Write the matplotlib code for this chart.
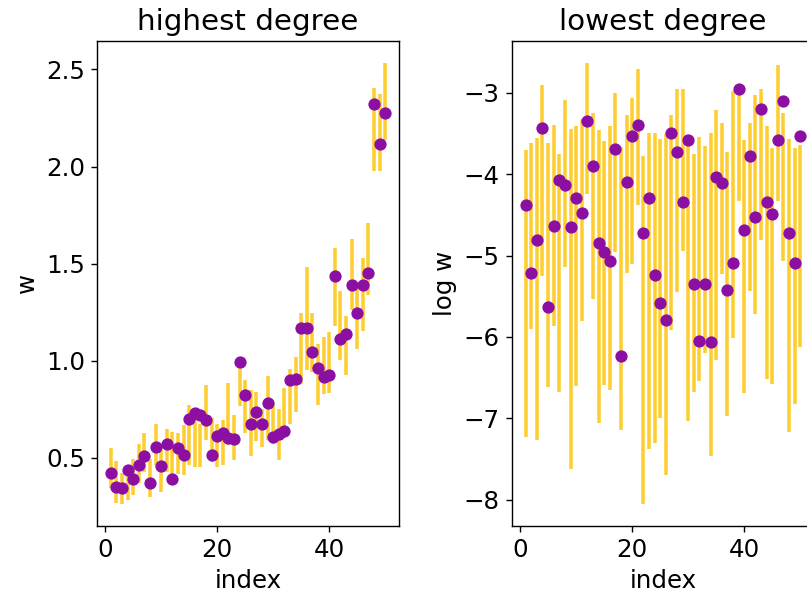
import numpy as np
import matplotlib
matplotlib.use('Agg')
import matplotlib.pyplot as plt

plt.rcParams['font.size'] = 14

index = np.arange(1, 51)

# highest degree: estimate with lower / upper interval bounds
w_high = [0.42, 0.351, 0.342, 0.435, 0.388, 0.462, 0.51, 0.372, 0.553, 0.456,
          0.572, 0.388, 0.548, 0.514, 0.70, 0.73, 0.72, 0.695, 0.514, 0.61,
          0.63, 0.604, 0.596, 0.993, 0.822, 0.673, 0.735, 0.676, 0.783, 0.608,
          0.621, 0.637, 0.899, 0.906, 1.169, 1.169, 1.044, 0.963, 0.915, 0.926,
          1.438, 1.113, 1.135, 1.39, 1.245, 1.39, 1.453, 2.324, 2.117, 2.276]
lo_high = [0.343, 0.266, 0.262, 0.283, 0.31, 0.368, 0.425, 0.30, 0.465, 0.324,
           0.425, 0.37, 0.415, 0.41, 0.463, 0.454, 0.454, 0.591, 0.48, 0.454,
           0.463, 0.565, 0.488, 0.766, 0.625, 0.51, 0.585, 0.555, 0.591, 0.57,
           0.488, 0.63, 0.672, 0.736, 0.88, 0.95, 0.942, 0.77, 0.83, 0.832,
           1.181, 1.002, 0.925, 1.262, 1.061, 1.152, 1.34, 1.977, 1.977, 2.139]
hi_high = [0.548, 0.485, 0.42, 0.46, 0.492, 0.572, 0.628, 0.492, 0.672, 0.54,
           0.65, 0.634, 0.628, 0.668, 0.77, 0.753, 0.676, 0.873, 0.705, 0.676,
           0.693, 0.887, 0.72, 1.0, 0.899, 0.85, 0.84, 0.75, 0.919, 0.778,
           0.753, 0.86, 0.955, 1.017, 1.248, 1.483, 1.248, 1.085, 1.121, 1.147,
           1.58, 1.357, 1.231, 1.626, 1.387, 1.529, 1.708, 2.405, 2.374, 2.533]

# lowest degree: log estimate with lower / upper interval bounds
w_low = [-4.38, -5.213, -4.805, -3.428, -5.626, -4.638, -4.07, -4.131, -4.654, -4.286,
         -4.47, -3.347, -3.894, -4.846, -4.96, -5.062, -3.694, -6.231, -4.094, -3.53,
         -3.396, -4.719, -4.286, -5.234, -5.577, -5.79, -3.494, -3.727, -4.34, -3.58,
         -5.344, -6.05, -5.344, -6.06, -4.037, -4.103, -5.426, -5.095, -2.95, -4.687,
         -3.776, -4.519, -3.196, -4.34, -4.486, -3.58, -3.102, -4.719, -5.095, -3.53]
lo_low = [-7.236, -5.90, -7.268, -5.246, -6.615, -5.859, -6.676, -5.136, -7.628, -6.607,
          -5.798, -4.245, -5.532, -7.056, -6.594, -6.656, -4.96, -7.138, -5.218, -5.103,
          -4.376, -8.053, -7.383, -7.301, -7.0, -7.697, -5.912, -5.45, -4.948, -7.03,
          -6.676, -6.541, -6.198, -7.464, -6.28, -5.226, -6.974, -6.01, -4.327, -6.688,
          -5.43, -5.716, -4.809, -6.513, -6.574, -4.327, -5.07, -7.166, -6.819, -6.125]
hi_low = [-3.706, -3.612, -3.559, -2.897, -3.612, -3.388, -3.755, -3.081, -3.437, -3.408,
          -3.314, -2.632, -3.245, -3.461, -3.592, -3.408, -3.0, -3.665, -3.273, -3.061,
          -2.701, -3.776, -3.49, -3.49, -3.571, -3.502, -3.273, -2.946, -2.946, -3.55,
          -3.755, -3.543, -3.653, -3.49, -3.204, -3.367, -3.723, -2.979, -2.946, -3.584,
          -3.367, -3.028, -2.946, -3.408, -3.682, -2.66, -3.245, -3.571, -3.682, -3.641]

bar_color = '#fecd2f'
dot_color = '#8c0fa3'

fig = plt.figure(figsize=(807 / 126, 601 / 126), dpi=126)
ax1 = fig.add_axes([0.1202, 0.1248, 0.3742, 0.807])
ax2 = fig.add_axes([0.6344, 0.1248, 0.3742, 0.807])

ax1.vlines(index, lo_high, hi_high, color=bar_color, lw=2)
ax1.plot(index, w_high, 'o', color=dot_color, ms=6)
ax1.set_title('highest degree')
ax1.set_xlabel('index')
ax1.set_ylabel('w')

ax2.vlines(index, lo_low, hi_low, color=bar_color, lw=2)
ax2.plot(index, w_low, 'o', color=dot_color, ms=6)
ax2.set_title('lowest degree')
ax2.set_xlabel('index')
ax2.set_ylabel('log w')

fig.savefig('out.png', dpi=126)
